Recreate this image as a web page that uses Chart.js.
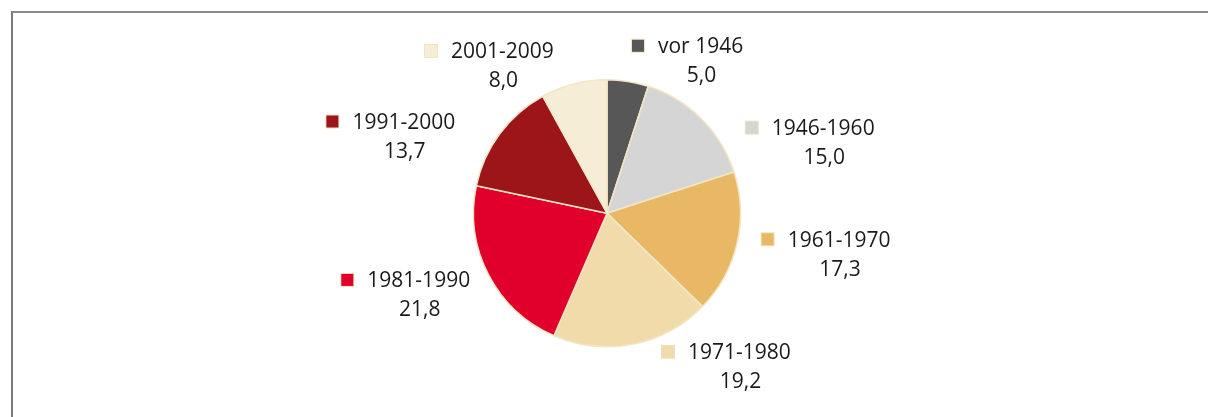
<!DOCTYPE html>
<html lang="de">
<head>
<meta charset="utf-8">
<title>Baujahre</title>
<script src="https://cdn.jsdelivr.net/npm/chart.js@4/dist/chart.umd.min.js"></script>
<style>
  html, body { margin: 0; padding: 0; background: #fff; overflow: hidden; }
  #frame {
    position: absolute; left: 11px; top: 11px;
    width: 1300px; height: 500px;
    border-left: 2px solid #7a7a7a;
    border-top: 2px solid #8a8a8a;
  }
  #wrap { position: absolute; left: 0; top: 0; width: 1208px; height: 417px; }
</style>
</head>
<body>
<div id="frame"></div>
<div id="wrap"><canvas id="pieChart"></canvas></div>
<script>
// Data
const periods = ['vor 1946', '1946-1960', '1961-1970', '1971-1980', '1981-1990', '1991-2000', '2001-2009'];
const shares = [5.0, 15.0, 17.3, 19.2, 21.8, 13.7, 8.0];
const sliceColors = ['#575757', '#d5d5d5', '#e8b864', '#f2dbab', '#e0002b', '#9c1519', '#f6edd6'];

// Label placement: angle (deg, clockwise from top) and distance in pie radii
const labelAngles = [29.2, 68.4, 96.4, 136.3, 250.5, 294.3, 327.2];
const labelDistances = [1.437, 1.742, 1.749, 1.436, 1.496, 1.670, 1.447];

const fontFamily = '"Open Sans", "DejaVu Sans", sans-serif';
const fontSize = 21;

// Draws marker + period name with the value centred underneath
const outsideLabels = {
  id: 'outsideLabels',
  afterDatasetsDraw(chart) {
    const ctx = chart.ctx;
    const arcs = chart.getDatasetMeta(0).data;
    if (!arcs.length) return;
    const cx = arcs[0].x, cy = arcs[0].y, r = arcs[0].outerRadius;
    ctx.save();
    ctx.font = fontSize + 'px ' + fontFamily;
    ctx.fillStyle = '#1a1a1a';
    ctx.textBaseline = 'alphabetic';
    const capHalf = fontSize * 0.357;
    periods.forEach((name, i) => {
      const a = labelAngles[i] * Math.PI / 180;
      const tx = cx + Math.sin(a) * r * labelDistances[i];
      const ty = cy - Math.cos(a) * r * labelDistances[i];
      const w = ctx.measureText(name).width;
      const left = tx - w / 2;

      // legend key
      const size = 12;
      ctx.fillStyle = '#f0e2c2';
      ctx.fillRect(left - 20 - size / 2 - 1, ty - size / 2 - 1, size + 2, size + 2);
      ctx.fillStyle = sliceColors[i];
      ctx.fillRect(left - 20 - size / 2, ty - size / 2, size, size);

      ctx.fillStyle = '#1a1a1a';
      ctx.textAlign = 'center';
      ctx.fillText(name, tx, ty + capHalf);
      const val = shares[i].toFixed(1).replace('.', ',');
      ctx.fillText(val, tx + 1, ty + 29 + capHalf);
    });
    ctx.restore();
  }
};

function initChart() {
  const ctx = document.getElementById('pieChart').getContext('2d');
  new Chart(ctx, {
    type: 'pie',
    data: {
      labels: periods,
      datasets: [{
        data: shares,
        backgroundColor: sliceColors,
        borderColor: '#f3e6c7',
        borderWidth: 1.5
      }]
    },
    options: {
      responsive: true,
      maintainAspectRatio: false,
      animation: false,
      layout: {
        padding: { left: 6, right: 0, top: 79, bottom: 69.5 }
      },
      plugins: {
        legend: { display: false },
        tooltip: { enabled: false }
      }
    },
    plugins: [outsideLabels]
  });
}

document.addEventListener('DOMContentLoaded', initChart);
</script>
</body>
</html>
